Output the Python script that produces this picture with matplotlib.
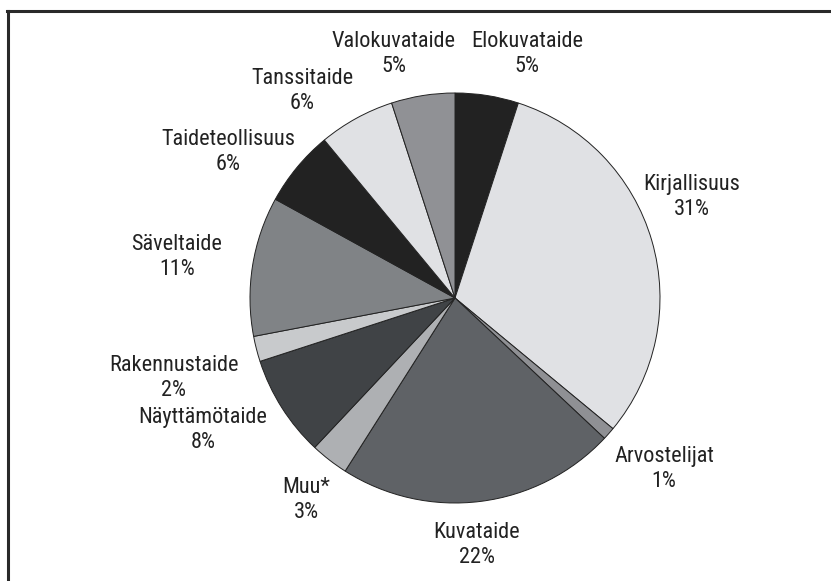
import matplotlib
matplotlib.use("Agg")
import matplotlib.pyplot as plt
from matplotlib import font_manager

# data, clockwise from 12 o'clock
categories = ["Elokuvataide", "Kirjallisuus", "Arvostelijat", "Kuvataide", "Muu*",
              "Näyttämötaide", "Rakennustaide", "Säveltaide", "Taideteollisuus",
              "Tanssitaide", "Valokuvataide"]
shares = [5, 31, 1, 22, 3, 8, 2, 11, 6, 6, 5]

colors = ["#222222", "#e0e1e4", "#8f9094", "#5f6266", "#aeb0b3",
          "#404346", "#c8cacc", "#808386", "#222222", "#e0e1e4", "#909195"]

# label centres in pie-radius units
label_pos = [(0.351, 1.190), (1.156, 0.493), (1.020, -0.834), (0.107, -1.205),
             (-0.727, -0.985), (-1.229, -0.644), (-1.371, -0.390), (-1.356, 0.200),
             (-1.107, 0.712), (-0.746, 1.010), (-0.298, 1.190)]

# narrowest installed sans we can find
names = {f.name for f in font_manager.fontManager.ttflist}
family = "DejaVu Sans"
for cand in ["Liberation Sans Narrow", "Roboto Condensed", "Open Sans Condensed",
             "Noto Sans Condensed", "Roboto", "Liberation Sans"]:
    if cand in names:
        family = cand
        break
plt.rcParams["font.family"] = [family, "DejaVu Sans"]

W, H = 831, 581
cx, cy, R = 455, 298, 205

fig = plt.figure(figsize=(W / 100, H / 100), dpi=100)
ax = fig.add_axes([0, 0, 1, 1])

ax.pie(shares, colors=colors, startangle=90, counterclock=False, radius=1,
       wedgeprops=dict(edgecolor="#222222", linewidth=0.7))

for name, val, (lx, ly) in zip(categories, shares, label_pos):
    ax.text(lx, ly, f"{name}\n{val}%", ha="center", va="center", fontsize=16,
            color="#222222", linespacing=1.22)

ax.set_xlim(-cx / R, (W - cx) / R)
ax.set_ylim(-(H - cy) / R, cy / R)
ax.set_aspect("auto")
ax.axis("off")

# frame, cropped at right and bottom
fig.add_artist(plt.Line2D([7 / W, 1], [1 - 10.5 / H, 1 - 10.5 / H], color="#2a2a2a", lw=2.2))
fig.add_artist(plt.Line2D([8 / W, 8 / W], [0, 1 - 10.5 / H], color="#2a2a2a", lw=2.2))

fig.savefig("out.png", dpi=100)
